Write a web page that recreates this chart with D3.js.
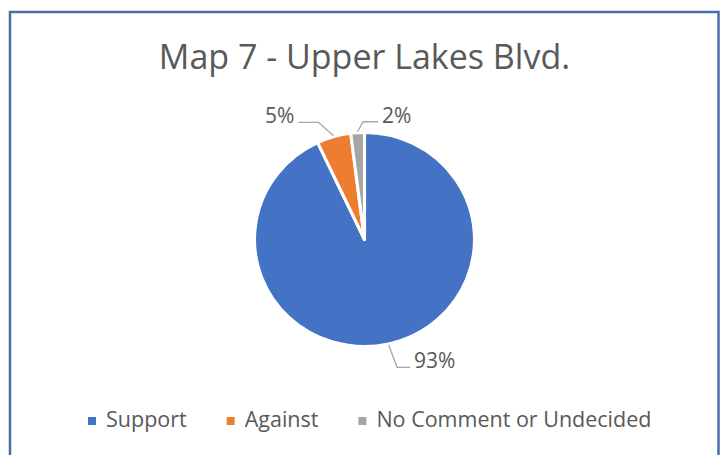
<!DOCTYPE html>
<html>
<head>
<meta charset="utf-8">
<script src="https://cdn.jsdelivr.net/npm/d3@7"></script>
<style>
  body { margin: 0; background: #fff; }
  svg { display: block; font-family: "Open Sans", sans-serif; }
</style>
</head>
<body>
<div id="chart"></div>
<script>
// datos del grafico
var categorias = ["Support", "Against", "No Comment or Undecided"];
var valores = [93, 5, 2];
var etiquetas = ["93%", "5%", "2%"];
var colores = ["#4472C4", "#ED7D31", "#A5A5A5"];

var width = 727, height = 455;
var cx = 364.5, cy = 239.5, radio = 107;
var sx = 1.028; // el original esta un poco estirado en horizontal

// ajustes de la posicion de cada etiqueta (radio del codo, corrimiento, lado del texto)
var ajustes = [
  {r: 131, dx: 4, dy: 0, lado: 1, largo: 13},
  {r: 122, dx: -12, dy: 0, lado: -1, largo: 20},
  {r: 118, dx: 6, dy: 0, lado: 1, largo: 15}
];

var svg = d3.select("#chart").append("svg")
  .attr("width", width).attr("height", height);

// marco
svg.append("rect")
  .attr("x", 10).attr("y", 12)
  .attr("width", 708.5).attr("height", 460)
  .attr("fill", "none")
  .attr("stroke", "#4A6DA7")
  .attr("stroke-width", 2.5);

svg.append("text")
  .attr("x", cx).attr("y", 69)
  .attr("text-anchor", "middle")
  .attr("font-size", 34)
  .attr("fill", "#595959")
  .text("Map 7 - Upper Lakes Blvd.");

var pie = d3.pie().sort(null).value(function(d) { return d; });
var arcs = pie(valores);
var arc = d3.arc().innerRadius(0).outerRadius(radio);

var g = svg.append("g").attr("transform", "translate(" + cx + "," + cy + ")");

g.append("g")
  .attr("transform", "scale(" + sx + ",1)")
  .selectAll("path.slice")
  .data(arcs)
  .enter()
  .append("path")
  .attr("class", "slice")
  .attr("d", arc)
  .attr("fill", function(d, i) { return colores[i]; })
  .attr("stroke", "#fff")
  .attr("stroke-width", 3)
  .attr("stroke-linejoin", "round");

// lineas guia y etiquetas
arcs.forEach(function(d, i) {
  var a = (d.startAngle + d.endAngle) / 2;
  var aj = ajustes[i];
  var p0 = [Math.sin(a) * (radio + 1) * sx, -Math.cos(a) * (radio + 1)];
  var p1 = [Math.sin(a) * aj.r + aj.dx, -Math.cos(a) * aj.r + aj.dy];
  var p2 = [p1[0] + aj.lado * aj.largo, p1[1]];

  g.append("polyline")
    .attr("points", [p0, p1, p2].map(function(p) { return p.join(","); }).join(" "))
    .attr("fill", "none")
    .attr("stroke", "#A6A6A6")
    .attr("stroke-width", 1.3);

  g.append("text")
    .attr("x", p2[0] + aj.lado * 4)
    .attr("y", p2[1] + 1)
    .attr("text-anchor", aj.lado > 0 ? "start" : "end")
    .attr("font-size", 21)
    .attr("fill", "#595959")
    .text(etiquetas[i]);
});

// leyenda
var leyenda = svg.append("g").attr("transform", "translate(0,427)");
var xl = 88;
categorias.forEach(function(c, i) {
  leyenda.append("rect")
    .attr("x", xl).attr("y", -10)
    .attr("width", 8).attr("height", 8)
    .attr("fill", colores[i]);
  var t = leyenda.append("text")
    .attr("x", xl + 18).attr("y", 0)
    .attr("font-size", 21.5)
    .attr("fill", "#595959")
    .text(c);
  xl += 18 + t.node().getComputedTextLength() + 40;
});
</script>
</body>
</html>
